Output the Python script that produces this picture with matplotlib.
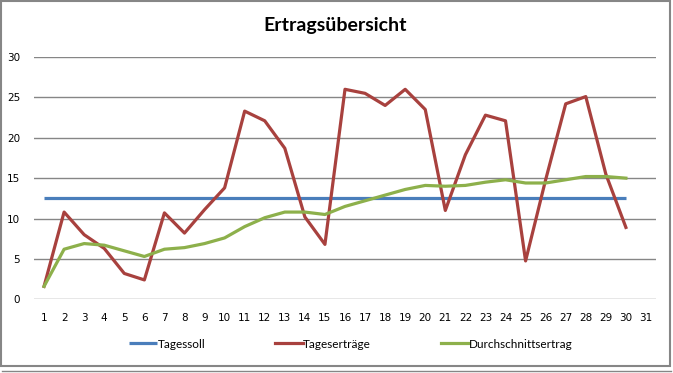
import matplotlib
matplotlib.use("Agg")
import matplotlib.pyplot as plt
from matplotlib.patches import Rectangle
from matplotlib.lines import Line2D

days = list(range(1, 31))
day_labels = [str(d) for d in range(1, 32)]
tagessoll = [12.5] * 30
tagesertraege = [1.6, 10.8, 8.0, 6.3, 3.2, 2.4, 10.7, 8.2, 11.1, 13.8,
                 23.3, 22.1, 18.7, 10.2, 6.8, 26.0, 25.5, 24.0, 26.0, 23.5,
                 11.0, 17.9, 22.8, 22.1, 4.75, 14.8, 24.2, 25.1, 15.5, 8.9]
durchschnitt = [1.6, 6.2, 6.9, 6.7, 6.0, 5.3, 6.2, 6.4, 6.9, 7.6,
                9.0, 10.1, 10.8, 10.8, 10.5, 11.5, 12.2, 12.9, 13.6, 14.1,
                14.0, 14.1, 14.5, 14.8, 14.4, 14.4, 14.8, 15.2, 15.2, 15.0]
y_ticks = [0, 5, 10, 15, 20, 25, 30]

W, H = 673, 373
fig = plt.figure(figsize=(W / 100, H / 100), dpi=100)
fig.patch.set_facecolor("white")

ax = fig.add_axes([34 / W, 1 - 299.3 / H, (656 - 34) / W, (299.3 - 57) / H])
ax.set_xlim(0.5, 31.5)
ax.set_ylim(0, 30)

c_blue = "#4A7EBB"
c_red = "#A8413E"
c_green = "#8DB04B"
lw = 2.3
l1, = ax.plot(days, tagessoll, color=c_blue, lw=lw, label="Tagessoll", solid_capstyle="butt")
l2, = ax.plot(days, tagesertraege, color=c_red, lw=lw, label="Tageserträge")
l3, = ax.plot(days, durchschnitt, color=c_green, lw=lw, label="Durchschnittsertrag")

ax.set_yticks(y_ticks)
ax.set_xticks(range(1, 32))
ax.set_xticklabels(day_labels)
ax.yaxis.grid(True, color="#868686", lw=1)
ax.set_axisbelow(True)
for s in ax.spines.values():
    s.set_visible(False)
ax.tick_params(axis="both", length=0, labelsize=7.5, labelcolor="#000000")
ax.tick_params(axis="y", pad=10)
ax.tick_params(axis="x", pad=10)

fig.text(335 / W, 1 - 25 / H, "Ertragsübersicht", ha="center", va="center",
         fontsize=14, fontweight="bold", family="Lato")

leg = fig.legend(handles=[l1, l2, l3], loc="center", bbox_to_anchor=(351 / W, 1 - 344 / H),
                 ncol=3, frameon=False, handlelength=2.4, handletextpad=0.0,
                 columnspacing=5.9, prop={"family": "Lato", "size": 8.5})

fig.add_artist(Rectangle((1 / W, 7 / H), 669 / W, (H - 8) / H, transform=fig.transFigure,
                         fill=False, edgecolor="#868686", lw=1.5))
fig.add_artist(Line2D([2 / W, 671 / W], [2 / H, 2 / H], transform=fig.transFigure,
                      color="#868686", lw=1))

fig.savefig("out.png", dpi=100)
